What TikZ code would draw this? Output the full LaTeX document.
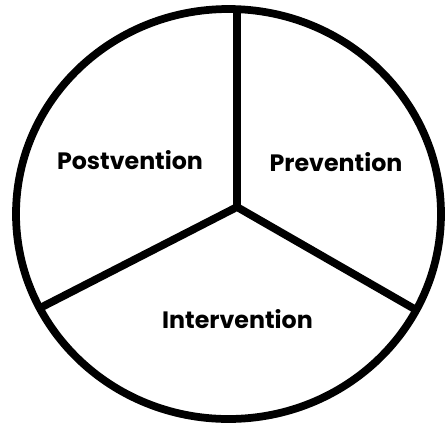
\documentclass[tikz,border=0pt]{standalone}
\usepackage{fontspec}
\setmainfont{Poppins}
\begin{document}
\begin{tikzpicture}[x=0.02cm, y=-0.02cm,
    rim/.style={line width=0.155cm},
    phase/.style={font=\bfseries\fontsize{13.5}{16}\selectfont, inner sep=0pt}]
    \useasboundingbox (0,0) rectangle (447,424);
    % outer rim
    \draw[rim] (228.5,214) ellipse [x radius=212.5, y radius=205];
    % spokes
    \coordinate (hub) at (237,207);
    \coordinate (top) at (237,10);
    \coordinate (lrim) at (40,308);
    \coordinate (rrim) at (418,311);
    \draw[rim] (top) -- (hub);
    \draw[rim, line join=round] (lrim) -- (hub) -- (rrim);
    % labels
    \node[phase] (post) at (130,160) {Postvention};
    \node[phase] (prev) at (336,162) {Prevention};
    \node[phase] (inter) at (237.5,319) {Intervention};
\end{tikzpicture}
\end{document}
